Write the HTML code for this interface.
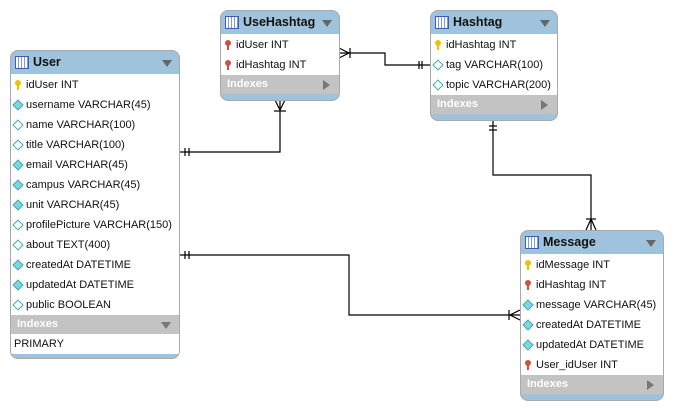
<!DOCTYPE html>
<html><head><style>
body{margin:0;width:673px;height:410px;background:#fff;position:relative;overflow:hidden;font-family:"Liberation Sans",sans-serif;}
.t{position:absolute;border:1px solid #a9a9a9;border-radius:8px;background:#9fc3dc;overflow:hidden;box-sizing:border-box}
.h{height:23px;position:relative;font-weight:bold;font-size:12.5px;line-height:23px;padding-left:22px;color:#111}
.h .ic{position:absolute;left:4px;top:5px;width:12px;height:11px;border:1px solid #3a5fae;background:repeating-linear-gradient(90deg,#fff 0 2px,#7b9cd8 2px 3px);}
.h .ar{position:absolute;right:7px;top:9px;width:0;height:0;border-left:5px solid transparent;border-right:5px solid transparent;border-top:7px solid #666}
.b{background:#fff;padding-top:1px}
.r{height:20px;font-size:11px;line-height:20px;padding-left:15px;position:relative;color:#111;white-space:nowrap}
.r i{position:absolute;left:3px;top:6px;width:6px;height:6px;border:1px solid #4aa;transform:rotate(45deg);background:#fff}
.r i.f{background:#7fd6e0}
.r b{position:absolute;left:4px;top:5px;width:6px;height:6px;border-radius:3px;background:#f0c000}
.r b:after{content:"";position:absolute;left:2px;top:5px;width:2px;height:5px;background:inherit}
.r b.fk{background:#d05040}
.ix{background:#c3c3c3;color:#fff;font-size:11px;font-weight:bold;height:19px;line-height:19px;padding-left:6px;position:relative}
.ix .ar2{position:absolute;right:9px;top:5px;border-top:5px solid transparent;border-bottom:5px solid transparent;border-left:7px solid #777}
.ix .ar3{position:absolute;right:8px;top:7px;border-left:5px solid transparent;border-right:5px solid transparent;border-top:7px solid #777}
</style></head><body>
<svg width="673" height="410" style="position:absolute;left:0;top:0" fill="none" stroke="#000" stroke-width="1.2">
<polyline points="179,152 280,152 280,100"/>
<line x1="185" y1="148" x2="185" y2="156"/><line x1="189" y1="148" x2="189" y2="156"/>
<line x1="274" y1="111" x2="286" y2="111"/><polyline points="275,100 280,110 285,100"/>
<polyline points="339,53 385,53 385,65 430,65"/>
<line x1="350" y1="48" x2="350" y2="58"/><polyline points="339,48 349,53 339,58"/>
<line x1="419" y1="61" x2="419" y2="69"/><line x1="422" y1="61" x2="422" y2="69"/>
<polyline points="493,120 493,175 591,175 591,230"/>
<line x1="489" y1="126" x2="497" y2="126"/><line x1="489" y1="130" x2="497" y2="130"/>
<line x1="586" y1="219" x2="596" y2="219"/><polyline points="586,230 591,219 596,230"/>
<polyline points="179,255 349,255 349,315 520,315"/>
<line x1="185" y1="251" x2="185" y2="259"/><line x1="189" y1="251" x2="189" y2="259"/>
<line x1="509" y1="310" x2="509" y2="320"/><polyline points="520,310 510,315 520,320"/>
</svg>

<div class="t" style="left:10px;top:50px;width:170px;height:309px">
<div class="h"><span class="ic"></span>User<span class="ar"></span></div>
<div class="b">
<div class="r"><b></b>idUser INT</div>
<div class="r"><i class="f"></i>username VARCHAR(45)</div>
<div class="r"><i></i>name VARCHAR(100)</div>
<div class="r"><i></i>title VARCHAR(100)</div>
<div class="r"><i class="f"></i>email VARCHAR(45)</div>
<div class="r"><i class="f"></i>campus VARCHAR(45)</div>
<div class="r"><i class="f"></i>unit VARCHAR(45)</div>
<div class="r"><i></i>profilePicture VARCHAR(150)</div>
<div class="r"><i></i>about TEXT(400)</div>
<div class="r"><i class="f"></i>createdAt DATETIME</div>
<div class="r"><i class="f"></i>updatedAt DATETIME</div>
<div class="r"><i></i>public BOOLEAN</div>
</div>
<div class="ix">Indexes<span class="ar3"></span></div>
<div class="r" style="background:#fff;padding-left:3px">PRIMARY</div>
</div>

<div class="t" style="left:220px;top:10px;width:120px;height:91px">
<div class="h"><span class="ic"></span>UseHashtag<span class="ar"></span></div>
<div class="b">
<div class="r"><b class="fk"></b>idUser INT</div>
<div class="r"><b class="fk"></b>idHashtag INT</div>
</div>
<div class="ix">Indexes<span class="ar2"></span></div>
</div>

<div class="t" style="left:430px;top:10px;width:128px;height:111px">
<div class="h"><span class="ic"></span>Hashtag<span class="ar"></span></div>
<div class="b">
<div class="r"><b></b>idHashtag INT</div>
<div class="r"><i></i>tag VARCHAR(100)</div>
<div class="r"><i></i>topic VARCHAR(200)</div>
</div>
<div class="ix">Indexes<span class="ar2"></span></div>
</div>

<div class="t" style="left:520px;top:230px;width:144px;height:171px">
<div class="h"><span class="ic"></span>Message<span class="ar"></span></div>
<div class="b">
<div class="r"><b></b>idMessage INT</div>
<div class="r"><b class="fk"></b>idHashtag INT</div>
<div class="r"><i class="f"></i>message VARCHAR(45)</div>
<div class="r"><i class="f"></i>createdAt DATETIME</div>
<div class="r"><i class="f"></i>updatedAt DATETIME</div>
<div class="r"><b class="fk"></b>User_idUser INT</div>
</div>
<div class="ix">Indexes<span class="ar2"></span></div>
</div>
</body></html>
